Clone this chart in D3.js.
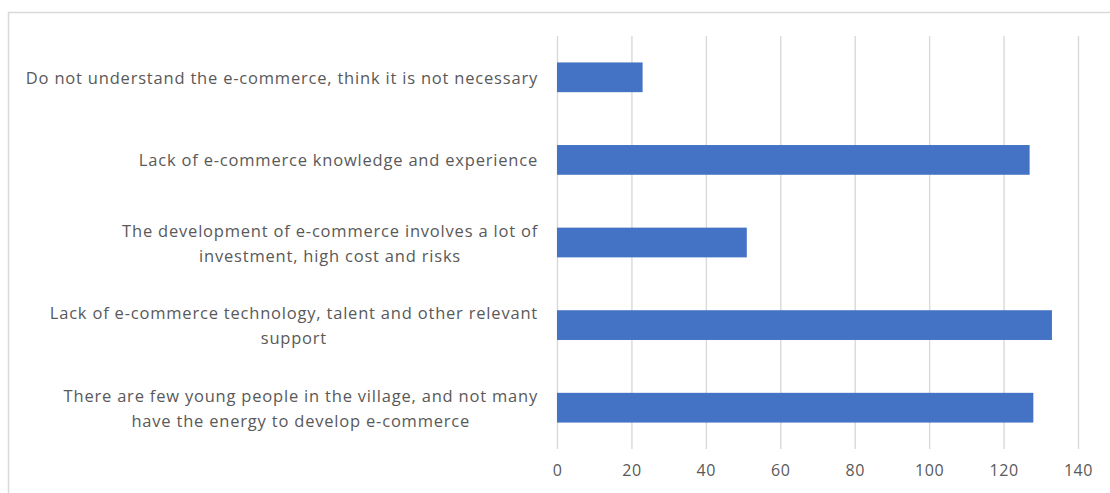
<!DOCTYPE html>
<html>
<head>
<meta charset="utf-8">
<script src="https://cdn.jsdelivr.net/npm/d3@7"></script>
<style>
  html, body { margin: 0; padding: 0; background: #ffffff; }
  svg { display: block; }
  text { font-family: "Open Sans", "Noto Sans", sans-serif; fill: #595959; }
</style>
</head>
<body>
<svg id="chart" width="1110" height="493"></svg>
<script>
// Reasons given for not developing e-commerce (number of respondents)
const categories = [
  "Do not understand the e-commerce, think it is not necessary",
  "Lack of e-commerce knowledge and experience",
  "The development of e-commerce involves a lot of\ninvestment, high cost and risks",
  "Lack of e-commerce technology, talent and other relevant\nsupport",
  "There are few young people in the village, and not many\nhave the energy to develop e-commerce"
];
const counts = [23, 127, 51, 133, 128];
const xTicks = [0, 20, 40, 60, 80, 100, 120, 140];

const svg = d3.select("#chart");
const W = 1110, H = 493;
const plot = { left: 557, right: 1078, top: 36, bottom: 449 };
const labelRight = 538;

// chart area frame
svg.append("rect")
  .attr("x", 8.5).attr("y", 12.5)
  .attr("width", W + 20).attr("height", H + 20)
  .attr("fill", "none")
  .attr("stroke", "#d9d9d9")
  .attr("stroke-width", 1.5);

const x = d3.scaleLinear().domain([0, 140]).range([plot.left, plot.right]);
const y = d3.scaleBand()
  .domain(categories)
  .range([plot.top, plot.bottom])
  .paddingInner(0.64)
  .paddingOuter(0.32);

// vertical gridlines with value labels underneath
const xAxis = d3.axisBottom(x)
  .tickValues(xTicks)
  .tickSize(-(plot.bottom - plot.top))
  .tickPadding(16)
  .tickFormat(d3.format("d"));

const gx = svg.append("g")
  .attr("transform", `translate(0,${plot.bottom})`)
  .call(xAxis);
gx.select(".domain").remove();
gx.selectAll(".tick line")
  .attr("stroke", "#d9d9d9")
  .attr("stroke-width", 1.4);
gx.selectAll(".tick text")
  .attr("font-size", 16)
  .attr("letter-spacing", "0.6px")
  .attr("fill", "#595959");

// bars
svg.append("g")
  .selectAll("rect")
  .data(categories)
  .join("rect")
  .attr("x", x(0))
  .attr("y", d => y(d))
  .attr("width", (d, i) => x(counts[i]) - x(0))
  .attr("height", y.bandwidth())
  .attr("fill", "#4472c4");

// category labels: lines centred on each other, block right-aligned
const lineH = 25;
const labels = svg.append("g")
  .attr("font-size", 16.5)
  .attr("letter-spacing", "0.8px");
categories.forEach(cat => {
  const lines = cat.split("\n");
  const cy = y(cat) + y.bandwidth() / 2;
  const g = labels.append("g");
  const t = g.selectAll("text")
    .data(lines)
    .join("text")
    .attr("text-anchor", "middle")
    .attr("dominant-baseline", "central")
    .attr("y", (d, i) => cy + (i - (lines.length - 1) / 2) * lineH)
    .text(d => d);
  let maxW = 0;
  t.each(function () { maxW = Math.max(maxW, this.getComputedTextLength()); });
  t.attr("x", labelRight - maxW / 2);
});
</script>
</body>
</html>
